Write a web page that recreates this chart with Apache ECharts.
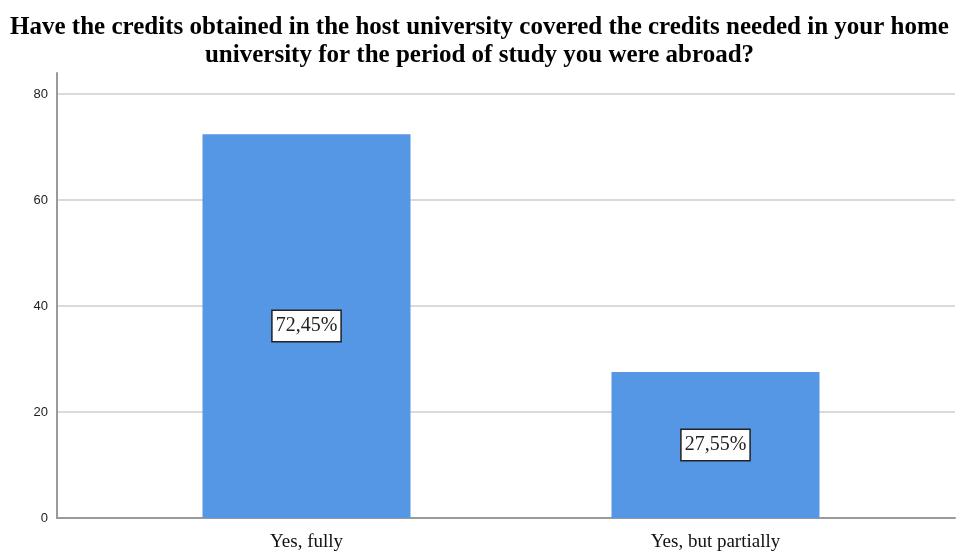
<!DOCTYPE html>
<html><head><meta charset="utf-8">
<script src="https://cdn.jsdelivr.net/npm/echarts@6/dist/echarts.min.js"></script>
<style>html,body{margin:0;padding:0;background:#fff}#c{width:959px;height:553px}</style>
</head><body><div id="c"></div>
<script>
const titleLines = ["Have the credits obtained in the host university covered the credits needed in your home", "university for the period of study you were abroad?"];
const categories = ["Yes, fully", "Yes, but partially"];
const values = [72.45, 27.55];
const labels = ["72,45%", "27,55%"];
const yTicks = [0, 20, 40, 60, 80];

const chart = echarts.init(document.getElementById('c'), null, {renderer: 'canvas'});
chart.setOption({
  animation: false,
  backgroundColor: '#fff',
  title: {
    text: titleLines.join('\n'),
    left: 'center', top: 9,
    textStyle: {fontFamily: 'Liberation Serif', fontWeight: 'bold', fontSize: 25, lineHeight: 28, color: '#000'}
  },
  grid: [
    {left: 57, right: 4, top: 73, bottom: 35},
    {left: 102, right: 39, top: 73, bottom: 35}
  ],
  xAxis: [
    {gridIndex: 0, type: 'value', min: 0, max: 1, axisLabel: {show: false}, axisTick: {show: false}, splitLine: {show: false},
     axisLine: {show: true, onZero: false, lineStyle: {color: '#9a9a9a', width: 2}}},
    {gridIndex: 1, type: 'category', data: categories, axisLine: {show: false}, axisTick: {show: false},
     axisLabel: {margin: 15, fontFamily: 'Liberation Serif', fontSize: 19, color: '#111'}}
  ],
  yAxis: [
    {gridIndex: 0, type: 'value', min: 0, max: 84, interval: 20,
     axisLine: {show: true, lineStyle: {color: '#9a9a9a', width: 2}}, axisTick: {show: false},
     axisLabel: {margin: 9, fontFamily: 'Liberation Sans', fontSize: 13, color: '#222',
       formatter: v => yTicks.includes(v) ? String(v) : '', showMaxLabel: false},
     splitLine: {show: true, showMaxLine: false, showMinLine: false, lineStyle: {color: '#dadada', width: 2}}},
    {gridIndex: 1, type: 'value', min: 0, max: 84, show: false, splitLine: {show: false}}
  ],
  series: [{
    type: 'bar', xAxisIndex: 1, yAxisIndex: 1,
    data: values, barWidth: 208,
    itemStyle: {color: '#5596e5'},
    label: {
      show: true, position: 'inside',
      formatter: p => labels[p.dataIndex],
      fontFamily: 'Liberation Serif', fontSize: 20, color: '#222',
      backgroundColor: '#fff', borderColor: '#222', borderWidth: 1.5,
      padding: [6, 3, 4, 3]
    }
  }]
});
</script></body></html>
